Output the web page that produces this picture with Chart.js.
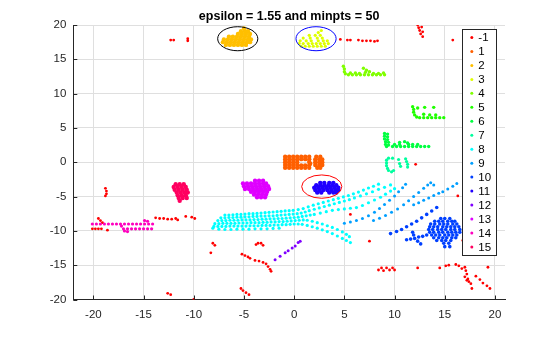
<!DOCTYPE html>
<html><head><meta charset="utf-8">
<script src="https://cdn.jsdelivr.net/npm/chart.js@4"></script>
<style>html,body{margin:0;padding:0;background:#fff;overflow:hidden}#wrap{width:560px;height:337px;position:relative}</style>
</head><body><div id="wrap"><canvas id="c" width="560" height="337"></canvas></div>
<script>
const titleText = 'epsilon = 1.55 and minpts = 50';
const xTicks = [-20,-15,-10,-5,0,5,10,15,20];
const yTicks = [-20,-15,-10,-5,0,5,10,15,20];
const clusterLabels = ['-1','1','2','3','4','5','6','7','8','9','10','11','12','13','14','15'];
const clusterColors = ['#ff0000','#ff6000','#ffbf00','#dfff00','#80ff00','#20ff00','#00ff40','#00ff9f','#00ffff','#009fff','#0040ff','#2000ff','#8000ff','#df00ff','#ff00bf','#ff0060'];

const clusterNoise = [[-12.3,17.8],[-12.0,17.8],[-10.6,18.0],[-10.6,17.7],
[4.6,17.9],[5.3,17.8],[5.6,17.8],[6.4,17.8],[6.8,17.7],[7.2,17.7],[7.6,17.7],[8.0,17.6],[8.3,17.7],
[12.3,20.0],[12.4,19.6],[12.5,19.2],[12.8,19.0],[12.6,18.7],[12.8,18.3],[12.7,19.7],[15.8,17.8],
[12.1,-0.3],[16.3,-4.9],[5.6,-7.6],[7.5,-11.5],[16.8,-11.4],
[-18.8,-3.8],[-18.7,-4.2],[-18.7,-4.6],[-18.8,-4.9],
[-13.8,-8.1],[-13.4,-8.2],[-13.0,-8.2],[-12.6,-8.3],[-12.2,-8.3],[-11.8,-8.2],[-11.6,-8.4],
[-10.8,-7.9],[-10.2,-8.0],[-9.9,-8.2],
[-19.5,-8.2],[-19.3,-8.5],[-19.1,-8.8],
[-20.1,-9.7],[-19.8,-9.7],[-19.5,-9.7],[-19.2,-9.7],[-18.6,-9.9],
[-8.3,-13.2],[-8.1,-11.8],[-7.9,-12.1],
[-5.2,-13.4],[-4.9,-13.6],[-4.6,-13.8],[-4.4,-14.0],
[-3.8,-12.0],[-3.6,-11.8],[-3.3,-11.8],[-3.1,-12.1],
[-3.9,-14.3],[-3.5,-14.4],[-3.1,-14.6],[-2.8,-14.8],[-2.6,-15.2],[-2.4,-15.6],[-2.3,-15.9],
[-5.3,-18.4],[-5.1,-18.7],[-4.8,-19.0],[-4.5,-19.3],
[-12.6,-19.1],[-12.3,-19.3],[-10.0,-20.0],
[8.4,-15.7],[8.7,-15.4],[8.9,-15.8],[9.2,-15.4],[9.5,-15.7],[9.8,-15.4],[10.0,-15.7],
[12.3,-15.4],[14.5,-15.4],[15.1,-15.1],[15.4,-15.0],[16.1,-14.9],[16.4,-15.1],[16.7,-15.5],
[17.0,-15.3],[17.1,-15.8],[17.2,-16.3],[17.0,-16.7],[17.3,-17.0],[17.4,-17.4],[17.6,-17.7],[17.2,-17.2],
[18.1,-16.6],[18.5,-17.1],[18.8,-17.6],[19.2,-18.0],[19.5,-18.4],[17.7,-18.4],[19.3,-15.3]];

const cluster1 = [[-0.9,0.8],[-0.5,0.8],[-0.1,0.8],[0.3,0.8],[-0.9,0.4],[-0.5,0.4],[-0.1,0.4],[0.3,0.4],
[-0.9,0.0],[-0.5,0.0],[-0.1,0.0],[0.3,0.0],[-0.9,-0.4],[-0.5,-0.4],[-0.1,-0.4],[0.3,-0.4],
[-0.9,-0.8],[-0.5,-0.8],[-0.1,-0.8],[0.3,-0.8],
[0.7,0.8],[1.1,0.8],[1.5,0.8],[0.7,0.45],[1.1,0.45],[1.5,0.45],[1.5,0.05],[1.6,-0.2],
[0.7,-0.45],[1.1,-0.45],[1.5,-0.45],[0.7,-0.8],[1.1,-0.8],[1.5,-0.8],
[2.2,0.8],[2.6,0.8],[2.1,0.4],[2.5,0.4],[2.8,0.4],[2.1,0.0],[2.5,0.0],[2.8,0.0],
[2.1,-0.4],[2.5,-0.4],[2.8,-0.4],[2.3,-0.8],[2.6,-0.8]];

const cluster2 = [[-6.8,17.1],[-6.4,17.1],[-6.0,17.1],[-5.6,17.1],[-5.2,17.1],[-4.8,17.1],
[-7.1,17.5],[-6.7,17.5],[-6.3,17.5],[-5.9,17.5],[-5.5,17.5],[-5.1,17.5],[-4.7,17.5],[-4.4,17.5],
[-7.0,17.9],[-6.6,17.9],[-6.2,17.9],[-5.8,17.9],[-5.4,17.9],[-5.0,17.9],[-4.6,17.9],[-4.3,17.9],
[-6.5,18.3],[-6.1,18.3],[-5.7,18.3],[-5.3,18.3],[-4.9,18.3],[-4.5,18.3],
[-5.6,18.7],[-5.2,18.7],[-4.8,18.7],[-4.4,18.7],[-5.3,19.1],[-4.9,19.1],[-4.6,19.1],[-5.0,19.5]];

const cluster3 = [[0.7,16.9],[1.1,16.9],[1.5,16.9],[1.9,16.9],[2.3,16.9],[2.7,16.9],[3.1,16.9],
[0.5,17.3],[0.9,17.3],[1.4,17.3],[1.8,17.3],[2.2,17.3],[2.6,17.3],[3.0,17.3],[3.4,17.3],
[0.6,17.7],[1.2,17.7],[1.7,17.7],[2.4,17.7],[2.9,17.7],[3.3,17.7],
[0.9,18.1],[1.6,18.1],[2.3,18.1],[2.8,18.1],[1.5,18.5],[2.1,18.5],[2.6,18.5],[2.4,18.9],[2.7,19.2]];

const cluster4 = [[4.9,14.0],[5.0,13.6],[5.0,13.2],[5.1,12.9],
[5.4,12.75],[5.8,12.75],[6.2,12.75],[6.6,12.75],[7.0,12.75],[7.4,12.75],[7.8,12.75],[8.2,12.75],[8.6,12.75],[9.0,12.75],
[5.6,13.0],[6.1,13.0],[6.5,12.95],[7.9,12.95],[8.4,12.95],[8.9,13.0],
[6.9,13.7],[7.2,13.4],[7.5,13.2],[7.1,13.1]];

const cluster5 = [[11.8,8.1],[11.9,7.7],[11.9,7.3],[12.0,6.9],[12.2,6.6],[12.3,7.9],
[12.5,6.5],[12.9,6.5],[13.3,6.5],[13.7,6.5],[14.1,6.5],[14.5,6.5],[14.9,6.5],
[12.9,7.0],[13.5,6.9],[14.1,6.9],[13.0,8.0],[13.9,8.0]];

const cluster6 = [[9.0,4.2],[9.3,4.1],[9.0,3.8],[9.3,3.7],[9.0,3.4],[9.3,3.3],[9.1,3.0],[9.4,2.9],[9.1,2.6],[9.4,2.5],[9.2,2.3],
[9.8,2.3],[10.2,2.3],[10.6,2.3],[11.0,2.3],[11.4,2.3],[11.8,2.3],[12.2,2.3],[12.6,2.3],[13.0,2.3],[13.4,2.3],
[10.0,2.6],[10.5,2.6],[11.4,2.6],[11.8,2.6],[12.3,2.6],[10.5,2.9],[11.0,3.0],[11.3,2.8]];

const cluster7 = [[9.4,0.6],[9.8,0.6],[9.2,0.3],[9.2,-0.1],[9.2,-0.5],[9.3,-0.9],[9.4,-1.2],[9.7,-1.4],[9.9,-1.2],
[10.4,0.4],[10.5,-0.2],[10.6,-0.6],[11.1,0.5],[11.2,0.1],[11.3,-0.3],[11.3,-0.7]];

const cluster8 = [
[-6.9,-7.7],[-6.5,-7.7],[-6.1,-7.65],[-5.7,-7.6],[-5.3,-7.6],[-4.9,-7.55],[-4.5,-7.5],[-4.1,-7.5],[-3.7,-7.45],[-3.3,-7.4],[-2.9,-7.35],[-2.5,-7.3],[-2.1,-7.25],[-1.7,-7.2],[-1.3,-7.15],[-0.9,-7.1],[-0.5,-7.05],[-0.1,-7.0],
[0.4,-6.9],[0.9,-6.75],[1.4,-6.5],[1.9,-6.25],[2.4,-6.05],[2.9,-5.85],[3.4,-5.65],[3.9,-5.45],[4.4,-5.25],[4.9,-5.05],[5.4,-4.85],[5.9,-4.6],[6.4,-4.35],[6.9,-4.05],[7.4,-3.75],[7.9,-3.5],[8.4,-3.2],
[-7.3,-8.1],[-6.9,-8.1],[-6.5,-8.05],[-6.1,-8.05],[-5.7,-8.0],[-5.3,-8.0],[-4.9,-7.95],[-4.5,-7.95],[-4.1,-7.9],[-3.7,-7.9],[-3.3,-7.85],[-2.9,-7.85],[-2.5,-7.8],[-2.1,-7.8],[-1.7,-7.75],[-1.3,-7.7],[-0.9,-7.65],[-0.5,-7.6],[-0.1,-7.55],[0.3,-7.5],[0.7,-7.4],[1.1,-7.25],
[1.5,-7.05],[2.0,-6.85],[2.5,-6.65],[3.0,-6.45],[3.5,-6.25],[4.0,-6.05],[4.5,-5.85],[5.0,-5.65],[5.5,-5.45],[6.0,-5.2],[6.6,-4.9],[7.2,-4.6],[7.8,-4.3],[8.4,-3.95],[9.0,-3.65],[9.6,-3.3],
[-7.6,-8.5],[-7.2,-8.5],[-6.8,-8.5],[-6.4,-8.45],[-6.0,-8.45],[-5.6,-8.45],[-5.2,-8.4],[-4.8,-8.4],[-4.4,-8.4],[-4.0,-8.35],[-3.6,-8.35],[-3.2,-8.3],[-2.8,-8.3],[-2.4,-8.25],[-2.0,-8.25],[-1.6,-8.2],[-1.2,-8.2],[-0.8,-8.15],[-0.4,-8.1],[0.0,-8.05],[0.4,-8.0],[0.8,-7.9],[1.2,-7.8],[1.6,-7.7],
[2.0,-7.6],[2.6,-7.4],[3.2,-7.2],[3.8,-7.0],[4.4,-6.9],[5.0,-6.8],[5.6,-6.7],[6.2,-6.6],[6.8,-6.3],[7.4,-5.9],[8.0,-5.5],[8.6,-5.1],[9.1,-4.65],[9.6,-4.2],[10.0,-3.85],
[-7.9,-8.95],[-7.5,-8.95],[-7.1,-8.9],[-6.7,-8.9],[-6.3,-8.9],[-5.9,-8.9],[-5.5,-8.85],[-5.1,-8.85],[-4.7,-8.85],[-4.3,-8.8],[-3.9,-8.8],[-3.5,-8.8],[-3.1,-8.75],[-2.7,-8.75],[-2.3,-8.7],[-1.9,-8.7],[-1.5,-8.65],[-1.1,-8.65],[-0.7,-8.6],[-0.3,-8.55],[0.1,-8.5],[0.5,-8.45],[0.9,-8.4],
[1.3,-8.45],[1.8,-8.6],[2.3,-8.8],[2.8,-9.0],[3.3,-9.25],[3.8,-9.5],[4.3,-9.8],[4.8,-10.15],[5.2,-10.5],[5.5,-10.85],
[-8.0,-9.35],[-7.6,-9.35],[-7.2,-9.35],[-6.8,-9.35],[-6.4,-9.3],[-6.0,-9.3],[-5.6,-9.3],[-5.2,-9.3],[-4.8,-9.3],[-4.4,-9.25],[-4.0,-9.25],[-3.6,-9.25],[-3.2,-9.2],[-2.8,-9.2],[-2.4,-9.2],[-2.0,-9.15],[-1.6,-9.15],[-1.2,-9.1],[-0.8,-9.1],[-0.4,-9.05],[0.0,-9.0],[0.4,-9.0],
[0.8,-9.05],[1.3,-9.2],[1.8,-9.4],[2.3,-9.6],[2.8,-9.85],[3.3,-10.1],[3.8,-10.4],[4.3,-10.75],[4.8,-11.1],[5.2,-11.4],[5.6,-11.7],
[-8.1,-9.6],[-7.5,-9.75],[-6.9,-9.8],[-6.3,-9.8],[-5.7,-9.75],[-5.1,-9.75],[-4.5,-9.75],[-3.9,-9.7],[-3.3,-9.7],[-2.7,-9.7],[-2.1,-9.65],[-1.5,-9.6]];

const cluster9 = [[5.0,-8.9],[5.6,-8.7],[6.2,-8.5],[6.8,-8.2],[7.4,-7.8],[8.0,-7.3],[8.5,-6.75],[9.0,-6.15],[9.5,-5.55],[10.0,-4.9],[10.4,-4.3],[10.8,-3.7],[11.1,-3.2],
[7.9,-8.5],[8.5,-8.15],[9.1,-7.75],[9.7,-7.3],[10.3,-6.8],[10.9,-6.2],[11.4,-5.6],[11.9,-5.0],[12.4,-4.4],[12.9,-3.8],[13.3,-3.3],[13.6,-3.0],[13.9,-3.3],
[11.9,-6.2],[12.4,-5.9],[12.9,-5.55],[13.4,-5.2],[13.9,-4.85],[14.4,-4.5],
[14.8,-4.3],[15.3,-3.9],[15.8,-3.5],[16.2,-3.1]];

const cluster10 = [[9.6,-10.4],[10.2,-10.1],[10.7,-9.8],[11.2,-9.4],[11.7,-9.0],[12.2,-8.6],[12.7,-8.1],[13.2,-7.6],[13.7,-7.1],[14.2,-6.6],
[11.2,-11.3],[11.6,-11.2],[12.0,-11.1],[12.4,-10.9],[12.8,-10.8],[13.2,-10.6],[12.3,-11.5],[12.6,-11.9],[11.9,-10.6],[11.8,-10.2],
[14.6,-8.2],[15.0,-8.2],[15.5,-8.2],
[14.0,-8.6],[14.4,-8.6],[14.8,-8.6],[15.3,-8.6],[15.7,-8.6],[16.0,-8.6],
[13.6,-9.0],[14.0,-9.0],[14.5,-9.0],[14.9,-9.0],[15.3,-9.0],[15.8,-9.0],[16.2,-9.0],
[13.5,-9.4],[13.9,-9.4],[14.3,-9.4],[14.8,-9.4],[15.2,-9.4],[15.6,-9.4],[16.0,-9.4],[16.4,-9.4],
[13.4,-9.8],[13.8,-9.8],[14.3,-9.8],[14.7,-9.8],[15.1,-9.8],[15.6,-9.8],[16.0,-9.8],[16.5,-9.8],
[13.5,-10.2],[13.9,-10.2],[14.4,-10.2],[14.8,-10.2],[15.3,-10.2],[15.7,-10.2],[16.1,-10.2],[16.5,-10.2],
[13.7,-10.6],[14.1,-10.6],[14.5,-10.6],[15.0,-10.6],[15.4,-10.6],[15.8,-10.6],[16.2,-10.6],
[13.9,-11.0],[14.4,-11.0],[14.8,-11.0],[15.2,-11.0],[15.7,-11.0],[16.1,-11.0],
[14.2,-11.4],[14.7,-11.4],[15.1,-11.4],[15.6,-11.4],[14.9,-11.8],[15.4,-11.8],[15.0,-12.3],[15.5,-12.3]];

const cluster11 = [[2.6,-3.0],[3.0,-3.0],[3.5,-3.0],[3.9,-3.0],
[2.2,-3.35],[2.6,-3.35],[3.0,-3.35],[3.4,-3.35],[3.8,-3.35],[4.2,-3.35],
[2.0,-3.7],[2.4,-3.7],[2.8,-3.7],[3.2,-3.7],[3.6,-3.7],[4.0,-3.7],[4.4,-3.7],
[2.1,-4.05],[2.5,-4.05],[2.9,-4.05],[3.3,-4.05],[3.7,-4.05],[4.1,-4.05],[4.4,-4.05],
[2.3,-4.4],[2.7,-4.4],[3.5,-4.4],[3.9,-4.4],[4.2,-4.4]];

const cluster12 = [[-1.9,-14.2],[-1.4,-13.7],[-0.9,-13.2],[-0.6,-12.9],[-0.2,-12.5],[0.1,-12.2],[0.4,-11.7],[0.6,-11.5]];

const cluster13 = [[-3.9,-2.7],[-3.5,-2.7],[-3.1,-2.7],
[-5.1,-3.1],[-4.7,-3.1],[-4.3,-3.1],[-3.9,-3.1],[-3.5,-3.1],[-3.1,-3.1],[-2.8,-3.1],
[-5.0,-3.5],[-4.6,-3.5],[-4.2,-3.5],[-3.8,-3.5],[-3.4,-3.5],[-3.0,-3.5],[-2.6,-3.5],
[-4.9,-3.9],[-4.5,-3.9],[-4.1,-3.9],[-3.7,-3.9],[-3.3,-3.9],[-2.9,-3.9],[-2.5,-3.9],
[-4.3,-4.3],[-3.9,-4.3],[-3.5,-4.3],[-3.1,-4.3],[-2.7,-4.3],
[-4.0,-4.7],[-3.6,-4.7],[-3.2,-4.7],[-2.8,-4.7],[-3.7,-5.1],[-3.3,-5.1],[-2.9,-5.1]];

const cluster14 = [[-20.1,-9.0],[-19.7,-9.0],[-19.3,-9.0],[-18.9,-9.0],[-18.5,-9.0],[-18.1,-9.0],[-17.7,-9.0],[-17.3,-9.0],[-16.9,-9.0],[-16.5,-9.0],[-16.1,-9.0],[-15.7,-9.0],[-15.3,-9.0],[-14.9,-9.0],[-14.5,-9.0],[-14.1,-9.0],
[-17.0,-9.7],[-16.6,-9.7],[-16.2,-9.7],[-15.8,-9.7],[-15.4,-9.7],[-15.0,-9.7],[-14.6,-9.7],[-14.2,-9.7],
[-17.2,-9.3],[-16.9,-10.0],[-16.6,-10.1],[-14.9,-8.5],[-14.6,-8.6]];

const cluster15 = [[-11.8,-3.2],[-11.4,-3.2],[-11.0,-3.2],
[-12.0,-3.6],[-11.6,-3.6],[-11.2,-3.6],[-10.8,-3.6],
[-11.9,-4.0],[-11.5,-4.0],[-11.1,-4.0],[-10.7,-4.0],
[-11.7,-4.4],[-11.3,-4.4],[-10.9,-4.4],[-10.6,-4.4],
[-11.6,-4.8],[-11.2,-4.8],[-10.8,-4.8],[-11.5,-5.2],[-11.1,-5.2],[-10.7,-5.2],[-11.4,-5.6]];

const clusters = [clusterNoise,cluster1,cluster2,cluster3,cluster4,cluster5,cluster6,cluster7,cluster8,cluster9,cluster10,cluster11,cluster12,cluster13,cluster14,cluster15];
const pointRadii = [1.4,2.2,2.2,1.6,1.7,1.7,1.7,1.6,1.6,1.5,1.8,2.2,1.5,2.2,1.6,2.2];

const ellipseCenters = [[-5.62,18.0],[2.18,18.0],[2.75,-3.55]];
const ellipseRadii = [[2.0,1.75],[2.0,1.75],[2.0,1.7]];
const ellipseColors = ['#000000','#0000ff','#ff0000'];

const FONT = '"Liberation Sans", Arial, Helvetica, sans-serif';
const AXIS = '#262626';

const titlePlugin = {
  id: 'titleP',
  afterDraw(chart) {
    const { ctx, chartArea: a } = chart;
    ctx.save();
    ctx.font = 'bold 12.5px ' + FONT;
    ctx.fillStyle = '#000';
    ctx.textAlign = 'center';
    ctx.textBaseline = 'alphabetic';
    ctx.fillText(titleText, (a.left + a.right) / 2, 19.5);
    ctx.restore();
  }
};

const tickPlugin = {
  id: 'tickP',
  afterDraw(chart) {
    const { ctx, chartArea: a, scales } = chart;
    ctx.save();
    ctx.strokeStyle = AXIS;
    ctx.lineWidth = 1;
    ctx.beginPath();
    xTicks.forEach(v => {
      const px = Math.round(scales.x.getPixelForValue(v)) + 0.5;
      ctx.moveTo(px, a.bottom); ctx.lineTo(px, a.bottom - 4);
    });
    yTicks.forEach(v => {
      const py = Math.round(scales.y.getPixelForValue(v)) + 0.5;
      ctx.moveTo(a.left, py); ctx.lineTo(a.left + 4, py);
    });
    ctx.stroke();
    ctx.restore();
  }
};

const ellipsePlugin = {
  id: 'ellP',
  afterDatasetsDraw(chart) {
    const { ctx, scales } = chart;
    ctx.save();
    ellipseCenters.forEach((c, i) => {
      const cx = scales.x.getPixelForValue(c[0]);
      const cy = scales.y.getPixelForValue(c[1]);
      const rx = Math.abs(scales.x.getPixelForValue(c[0] + ellipseRadii[i][0]) - cx);
      const ry = Math.abs(scales.y.getPixelForValue(c[1] + ellipseRadii[i][1]) - cy);
      ctx.beginPath();
      ctx.ellipse(cx, cy, rx, ry, 0, 0, Math.PI * 2);
      ctx.strokeStyle = ellipseColors[i];
      ctx.lineWidth = 1;
      ctx.stroke();
    });
    ctx.restore();
  }
};

const legendPlugin = {
  id: 'legP',
  afterDraw(chart) {
    const { ctx } = chart;
    const bx = 462.5, by = 29.5, bw = 34, bh = 226;
    ctx.save();
    ctx.fillStyle = '#fff';
    ctx.fillRect(bx, by, bw, bh);
    ctx.strokeStyle = AXIS;
    ctx.lineWidth = 1;
    ctx.strokeRect(bx, by, bw, bh);
    ctx.font = '11.5px ' + FONT;
    ctx.textAlign = 'left';
    ctx.textBaseline = 'middle';
    clusterLabels.forEach((lab, i) => {
      const y = by + 8 + i * 13.96;
      ctx.fillStyle = clusterColors[i];
      ctx.beginPath();
      ctx.arc(bx + 9.3, y, 1.5, 0, Math.PI * 2);
      ctx.fill();
      ctx.fillStyle = '#000';
      ctx.fillText(lab, bx + 15.8, y + 0.5);
    });
    ctx.restore();
  }
};

const datasets = clusters.map((pts, i) => ({
  label: clusterLabels[i],
  data: pts.map(p => ({ x: p[0], y: p[1] })),
  pointBackgroundColor: clusterColors[i],
  backgroundColor: clusterColors[i],
  pointBorderWidth: 0,
  borderWidth: 0,
  pointRadius: pointRadii[i],
  pointHoverRadius: pointRadii[i],
  order: clusters.length - i
}));

new Chart(document.getElementById('c'), {
  type: 'scatter',
  data: { datasets },
  options: {
    responsive: false,
    animation: false,
    devicePixelRatio: 1,
    events: [],
    layout: { padding: { left: 0, right: 55, top: 25, bottom: 0 } },
    plugins: { legend: { display: false }, tooltip: { enabled: false }, title: { display: false } },
    scales: {
      x: {
        type: 'linear', min: -22, max: 21,
        afterBuildTicks: s => { s.ticks = xTicks.map(v => ({ value: v })); },
        afterFit: s => { s.height = 37.5; },
        ticks: { color: AXIS, font: { size: 11.5, family: FONT }, padding: 8, maxRotation: 0, autoSkip: false },
        grid: { color: '#dfdfdf', drawTicks: false, lineWidth: 1 },
        border: { display: true, color: AXIS, width: 1 }
      },
      y: {
        type: 'linear', min: -20, max: 20,
        afterBuildTicks: s => { s.ticks = yTicks.map(v => ({ value: v })); },
        afterFit: s => { s.width = 73.3; },
        ticks: { color: AXIS, font: { size: 11.5, family: FONT }, padding: 7, autoSkip: false },
        grid: { color: '#dfdfdf', drawTicks: false, lineWidth: 1 },
        border: { display: true, color: AXIS, width: 1 }
      }
    }
  },
  plugins: [tickPlugin, ellipsePlugin, legendPlugin, titlePlugin]
});
</script></body></html>
